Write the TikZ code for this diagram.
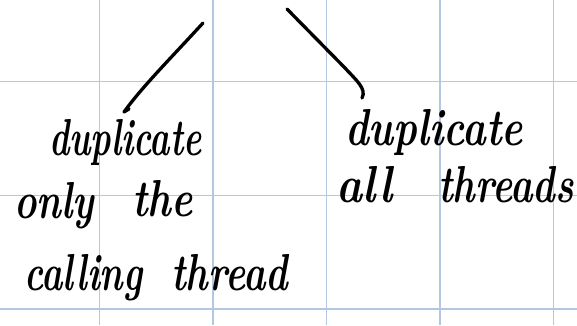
\documentclass[tikz,border=0pt]{standalone}
\usepackage{amsmath,amssymb}
\usepackage{graphicx}

\definecolor{gridblue}{HTML}{B3C6E2}

% tall, narrow hand lettering
\newcommand{\handw}[2][1]{\scalebox{#1}[1.3]{#2}}

\tikzset{
  hand/.style={font=\fontsize{40}{44}\selectfont\bfseries\itshape, anchor=base west, inner sep=0pt},
  pen/.style={line width=3.3pt, line cap=round, line join=round}
}

\begin{document}
\begin{tikzpicture}[x=1pt, y=1pt]

% Page
\useasboundingbox (0,0) rectangle (577,325);

% Grid paper
\foreach \gx in {99.3,212.9,326.5,440.1,553.7}
  \draw[gridblue, line width=1.4pt] (\gx,0) -- (\gx,325);
\foreach \gy in {243.3,129.7,16.1}
  \draw[gridblue, line width=1.4pt] (0,\gy) -- (577,\gy);

% Left branch
\node[hand] (dupL) at (49,170) {\handw[0.86]{duplicate}};
\node[hand] (only) at (14,107) {\handw[0.95]{only}};
\node[hand] (the) at (132,109) {\handw[1.0]{the}};
\node[hand] (calling) at (24,35) {\handw[0.9]{calling}};
\node[hand] (thread) at (171,35) {\handw[0.95]{thread}};

% Right branch
\node[hand] (dupR) at (345,180) {\handw[1.0]{duplicate}};
\node[hand] (all) at (336,123) {\handw[1.1]{all}};
\node[hand] (threads) at (438,123) {\handw[0.95]{threads}};

% Strokes from above
\coordinate (topL) at (203,302);
\coordinate (endL) at (124,213);
\coordinate (topR) at (287,316);
\coordinate (endR) at (362,227);

\draw[pen] (topL) .. controls (170,266) and (142,238) .. (endL) -- (129,216);
\draw[pen] (topR) -- (345,257)
  .. controls (356,245) and (367,236) .. (endR);

\end{tikzpicture}
\end{document}
